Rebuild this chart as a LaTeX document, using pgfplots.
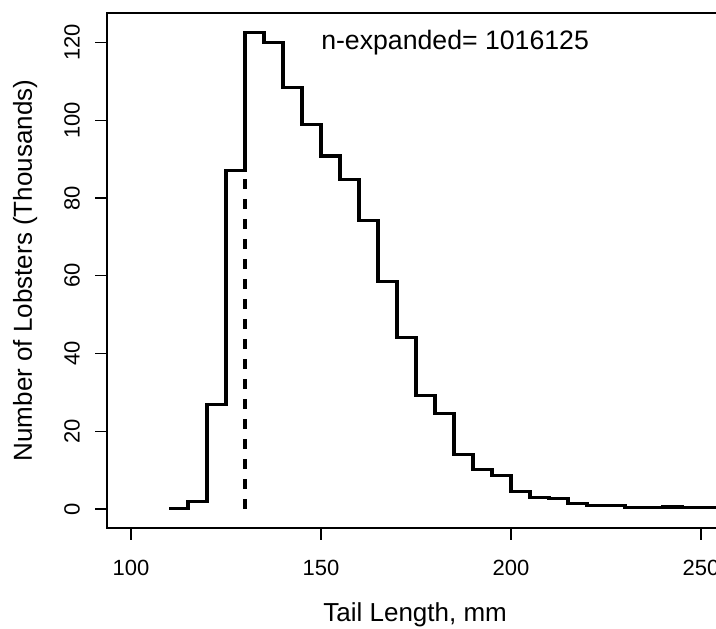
\documentclass[border=0pt]{standalone}
\usepackage{fontspec}
\setmainfont{Liberation Sans}
\usepackage{pgfplots}
\pgfplotsset{compat=1.18}
\begin{document}
\begin{tikzpicture}[x=1pt,y=1pt]
\useasboundingbox (0,0) rectangle (537,471);
\begin{axis}[
  at={(80.25pt,75pt)}, anchor=south west,
  scale only axis, width=456.75pt, height=386.25pt,
  xmin=93.68, xmax=253.95, ymin=-4.9, ymax=127.6,
  clip=false,
  axis line style={draw=none},
  xtick={100,150,200,250}, ytick={0,20,40,60,80,100,120},
  xtick pos=bottom, ytick pos=left,
  tick align=outside, major tick length=8.7pt,
  every tick/.style={black, line width=0.9pt},
  /pgf/number format/assume math mode=true,
  tick label style={font=\fontsize{16.5}{19}\selectfont},
  xticklabel style={anchor=north, inner sep=0pt},
  xticklabel shift=15.3pt,
  yticklabel style={rotate=90, anchor=south, inner sep=0pt},
  yticklabel shift=11.5pt,
  every axis x label/.style={at={(axis description cs:0.506,-0.1806)}, anchor=base, font=\fontsize{19.5}{23}\selectfont},
  every axis y label/.style={at={(axis description cs:-0.1232,0.5)}, rotate=90, anchor=base, font=\fontsize{19.5}{23}\selectfont},
  xlabel={Tail Length, mm},
  ylabel={Number of Lobsters (Thousands)},
]
\draw[line width=1.2pt] (rel axis cs:1.05,1) -- (rel axis cs:0,1) -- (rel axis cs:0,0) -- (rel axis cs:1.05,0);
\addplot[const plot, line width=2.3pt, black, line join=miter] coordinates {
(110,0.2) (115,2.0) (120,26.8) (125,87.1) (130,122.7) (135,120.0)
(140,108.5) (145,99.0) (150,90.8) (155,84.8) (160,74.3) (165,58.5)
(170,44.0) (175,29.2) (180,24.6) (185,13.9) (190,10.1) (195,8.5)
(200,4.6) (205,3.0) (210,2.75) (215,1.47) (220,0.77) (225,0.77)
(230,0.26) (235,0.26) (240,0.5) (245,0.26) (250,0.26) (255,0.26) (260,0.26)
};
\addplot[line width=2.3pt, black, dash pattern=on 7.5pt off 7.5pt] coordinates {(130,0) (130,85)};
\node[anchor=west, inner sep=0pt, font=\fontsize{20}{24}\selectfont] at (axis cs:150,120) {n-expanded= 1016125};
\end{axis}
\end{tikzpicture}
\end{document}
